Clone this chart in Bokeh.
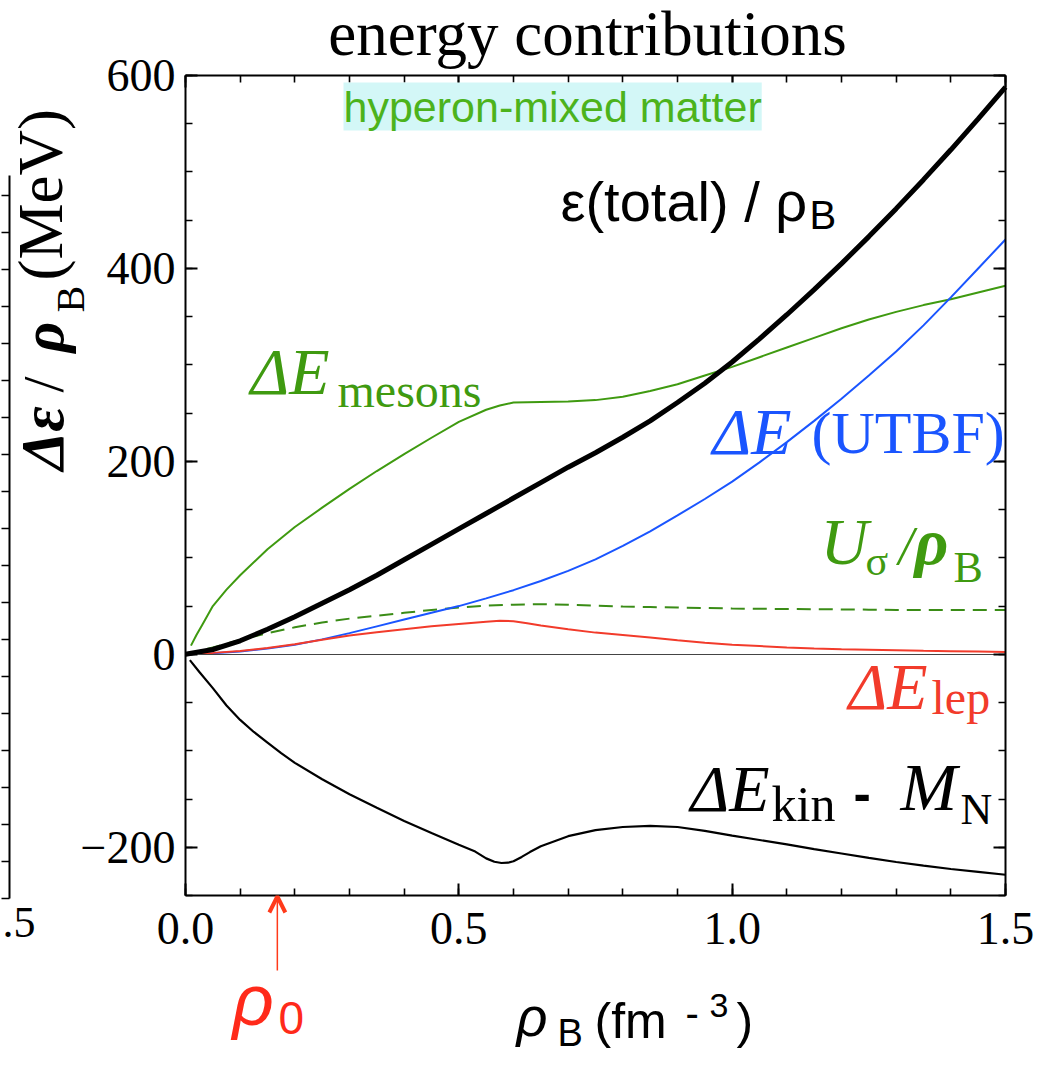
import numpy as np
from math import pi
from bokeh.plotting import figure
from bokeh.models import Range1d, LinearAxis, FixedTicker, Label, Arrow, OpenHead
from bokeh.embed import file_html
from bokeh.resources import INLINE

# ---------------- data ----------------
rho = [0, 0.05, 0.1, 0.15, 0.2, 0.25, 0.3, 0.35, 0.4, 0.45, 0.5, 0.55, 0.6, 0.65, 0.7,
       0.75, 0.8, 0.85, 0.9, 0.95, 1.0, 1.05, 1.1, 1.15, 1.2, 1.25, 1.3, 1.35, 1.4, 1.45, 1.5]
eps_total = [0, 5, 14, 26, 39, 53, 67, 82, 98, 114, 130, 146, 162, 178, 194,
             209, 225, 242, 261, 281, 303, 327, 352, 378, 405, 433, 462, 492, 523, 555, 588]
dE_utbf = [0, 1, 3, 6, 10, 15.5, 22, 29, 36, 43, 50, 58, 66.5, 76, 86.5,
           98.5, 112.5, 127.5, 144, 161, 179, 199, 220, 242, 265, 289, 314, 341, 370, 400, 430]
U_sigma = [0, 7, 15, 22, 28, 33, 37, 40, 43, 46, 48.5, 50.5, 51.5, 52, 51.5,
           50.5, 49.5, 49, 48.5, 48, 47.5, 47.2, 47, 46.8, 46.5, 46.3, 46, 46, 46, 46, 46]

rho_lep = [0, 0.05, 0.1, 0.15, 0.2, 0.25, 0.3, 0.35, 0.4, 0.45, 0.5, 0.55, 0.575, 0.6, 0.625,
           0.65, 0.7, 0.75, 0.8, 0.85, 0.9, 0.95, 1.0, 1.05, 1.1, 1.15, 1.2, 1.25, 1.3, 1.35,
           1.4, 1.45, 1.5]
dE_lep = [0, 1.5, 3.5, 6.5, 10.5, 15, 19.5, 23, 26, 29, 31.5, 33.8, 34.8, 34.3, 32.3,
          29.8, 26, 22.5, 20, 17.5, 14.5, 12, 10, 8.5, 7, 6, 5.2, 4.7, 4.2, 3.7,
          3.3, 2.9, 2.5]

rho_mes = [0.01, 0.02, 0.03, 0.05, 0.075, 0.1, 0.15, 0.2, 0.25, 0.3, 0.35, 0.4, 0.45, 0.5,
           0.55, 0.575, 0.6, 0.65, 0.7, 0.75, 0.8, 0.85, 0.9, 0.95, 1.0, 1.05, 1.1, 1.15,
           1.2, 1.25, 1.3, 1.35, 1.4, 1.45, 1.5]
dE_mesons = [9, 20, 30, 50, 67, 82, 109, 132, 152, 171.5, 190, 207.5, 224.5, 241,
             253.5, 258, 261, 261.5, 262, 263.5, 267, 273, 280, 289, 298, 308, 318, 328,
             338, 347, 355, 362, 368, 375, 382]

rho_kin = [0.008, 0.025, 0.05, 0.075, 0.1, 0.125, 0.15, 0.175, 0.2, 0.25, 0.3, 0.35, 0.4,
           0.45, 0.5, 0.53, 0.55, 0.565, 0.578, 0.59, 0.6, 0.615, 0.63, 0.65, 0.7, 0.75, 0.8,
           0.85, 0.9, 0.95, 1.0, 1.05, 1.1, 1.15, 1.2, 1.25, 1.3, 1.35, 1.4, 1.45, 1.5]
dE_kin = [-6, -18, -35, -53, -68, -80.5, -91.5, -102.5, -112.5, -129.5, -145, -159, -172.7,
          -185.3, -197.5, -204.5, -211.5, -215, -216.3, -216, -214.5, -210, -205, -199,
          -188.5, -182.3, -179, -177.8, -179, -183, -188, -192.5, -197, -202, -206.5, -211,
          -215.3, -219, -222.5, -225.5, -228.5]

rho0 = 0.168
x_major = [0, 0.5, 1.0, 1.5]
x_minor = [round(0.1 * i, 1) for i in range(16)]
x_tick_labels = {0: "0.0", 0.5: "0.5", 1: "1.0", 1.5: "1.5"}
y_major = [-200, 0, 200, 400, 600]
y_minor = list(range(-250, 601, 50))
y_tick_labels = {-200: "\u2212200", 0: "0", 200: "200", 400: "400", 600: "600"}

# ---------------- layout ----------------
W, H = 1045, 1055
BOX_L, BOX_T, BOX_W, BOX_H = 185, 75, 820, 820   # plot box in page pixels
XR, YR = (0, 1.5), (-250, 600)

SERIF = "Liberation Serif"
SANS = "Liberation Sans"
GREEN = "#3f9a10"
GREEN_D = "#3a8c16"
BLUE = "#1a55ff"
RED = "#f23b2b"


# page pixel -> data helpers (layout only)
def X(px):
    return XR[0] + (px - BOX_L) / BOX_W * (XR[1] - XR[0])


def Y(py):
    return YR[1] - (py - BOX_T) / BOX_H * (YR[1] - YR[0])


p = figure(width=W, height=H, x_range=Range1d(X(0), X(W)), y_range=Range1d(Y(H), Y(0)),
           output_backend="svg", toolbar_location=None, min_border=0)
p.title.visible = False
p.outline_line_color = None
p.background_fill_color = "white"
p.border_fill_color = "white"
p.grid.visible = False


def style_axis(ax, major, minor, labels, show, loc, bounds):
    ax.fixed_location = loc
    ax.bounds = bounds
    ax.ticker = FixedTicker(ticks=major, minor_ticks=minor)
    ax.major_label_overrides = labels
    ax.axis_line_width = 2
    ax.major_tick_in = 12
    ax.major_tick_out = 0
    ax.minor_tick_in = 7
    ax.minor_tick_out = 0
    ax.major_tick_line_width = 2
    ax.minor_tick_line_width = 1.6
    ax.major_label_text_font = SERIF
    ax.major_label_text_font_size = "46px"
    ax.major_label_text_color = "black" if show else None
    ax.axis_label = None


# zero line (thin axis without ticks)
zero = LinearAxis(fixed_location=0, bounds=XR, ticker=FixedTicker(ticks=[]),
                  axis_line_color="#444444", axis_line_width=1.2,
                  major_tick_in=0, major_tick_out=0, minor_tick_in=0, minor_tick_out=0,
                  major_label_text_color=None)
p.add_layout(zero, "below")

style_axis(p.xaxis[0], x_major, x_minor, x_tick_labels, True, YR[0], XR)
p.xaxis[0].major_label_standoff = 17
style_axis(p.yaxis[0], y_major, y_minor, y_tick_labels, True, XR[0], YR)
p.yaxis[0].major_label_standoff = 10
top = LinearAxis()
style_axis(top, x_major, x_minor, x_tick_labels, False, YR[1], XR)
right = LinearAxis()
style_axis(right, y_major, y_minor, y_tick_labels, False, XR[1], YR)
p.add_layout(top, "above")
p.add_layout(right, "right")

# curves
p.line(rho_mes, dE_mesons, line_color=GREEN, line_width=2)
p.line(rho, U_sigma, line_color=GREEN_D, line_width=2, line_dash="14 8")
p.line(rho, dE_utbf, line_color=BLUE, line_width=2)
p.line(rho_lep, dE_lep, line_color=RED, line_width=2)
p.line(rho_kin, dE_kin, line_color="black", line_width=2.2)
p.line(rho, eps_total, line_color="black", line_width=5)

BASE_K = 0.37     # measured offset of the drawn baseline below the anchor (x font size)
BASE_K_ROT = 0.40


def lab(text, px, py, size, color="black", font=SERIF, style="normal", align="left",
        angle=0, **kw):
    """px, py: wanted start of the text baseline in page pixels."""
    if angle == 0:
        py = py - BASE_K * size
    else:
        px = px - BASE_K_ROT * size
    p.add_layout(Label(x=X(px), y=Y(py), text=text, text_font=font, text_font_size=f"{size}px",
                       text_font_style=style, text_color=color, text_align=align,
                       text_baseline="alphabetic", angle=angle, **kw))


# title
lab("energy contributions", 587, 57, 63, align="center")
# hyperon box
lab("hyperon-mixed matter", 343, 122, 43, color="#4cb31c", font=SANS,
    background_fill_color="#d3f7f7", padding=0)
# epsilon total
lab("\u03b5(total) / \u03c1", 560, 222, 56, font=SANS)
lab("B", 809, 229, 40, font=SANS)
# mesons
lab("\u0394E", 250, 395, 66, color=GREEN, style="italic")
lab("mesons", 337, 408, 48, color=GREEN)
# UTBF
lab("\u0394E", 712, 455, 66, color=BLUE, style="italic")
lab("(UTBF)", 811, 455, 60, color=BLUE)
# U_sigma / rho_B
lab("U", 820, 565, 66, color=GREEN, style="italic")
lab("\u03c3", 865, 576, 42, color=GREEN)
lab("/", 898, 565, 54, color=GREEN, style="italic")
lab("\u03c1", 914, 565, 66, color=GREEN, style="bold italic")
lab("B", 953, 583, 44, color=GREEN)
# lepton
lab("\u0394E", 848, 710, 66, color=RED, style="italic")
lab("lep", 931, 715, 48, color=RED)
# kinetic
lab("\u0394E", 690, 812, 66, style="italic")
lab("kin", 771, 822, 50)
lab("-", 853, 812, 52, font=SANS, style="bold")
lab("M", 900, 812, 68, style="italic")
lab("N", 960, 825, 44)

# y axis title (rotated, reads bottom to top)
lab("\u0394\u03b5", 66, 470, 62, style="bold italic", angle=pi / 2)
lab("/", 66, 392, 58, angle=pi / 2)
lab("\u03c1", 66, 352, 60, style="bold italic", angle=pi / 2)
lab("B", 86, 312, 40, angle=pi / 2)
lab("(MeV)", 66, 280, 63, angle=pi / 2)

# x axis title
lab("\u03c1", 516, 1036, 54, font=SANS, style="italic")
lab("B", 557, 1047, 38, font=SANS)
lab("(fm", 594, 1039, 50, font=SANS)
lab("-", 685, 1027, 40, font=SANS)
lab("3", 709, 1018, 34, font=SANS)
lab(")", 736, 1039, 50, font=SANS)

# rho0 marker
p.add_layout(Arrow(x_start=rho0, y_start=Y(970), x_end=rho0, y_end=Y(896),
                   line_color="#ff3a1a", line_width=1.5,
                   end=OpenHead(size=16, line_width=4, line_color="#ff3a1a")))
lab("\u03c1", 232, 1026, 72, color="#ff2a1a", font=SANS, style="italic")
lab("0", 278, 1035, 46, color="#ff2a1a", font=SANS)

# right edge of the neighbouring (cropped) panel
nb = LinearAxis(fixed_location=X(9), bounds=(Y(898), Y(175)),
                ticker=FixedTicker(ticks=[Y(898 - 37 * k) for k in range(20)]),
                major_tick_in=8, major_tick_out=0, minor_tick_in=0, minor_tick_out=0,
                axis_line_width=2, major_tick_line_width=1.6, major_label_text_color=None)
p.add_layout(nb, "right")
lab(".5", 35, 938, 44, align="right")

open("out.html", "w").write(file_html(p, INLINE))
